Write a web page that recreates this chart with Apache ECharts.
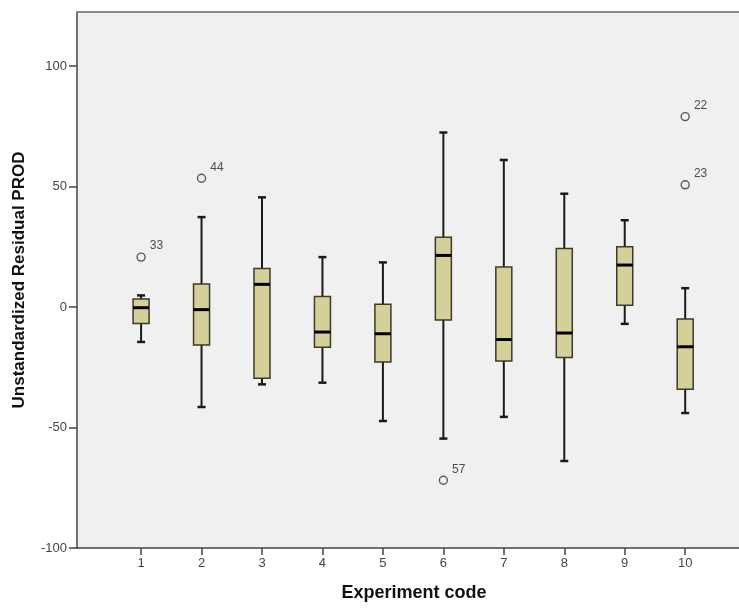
<!DOCTYPE html>
<html>
<head>
<meta charset="utf-8">
<script src="https://cdn.jsdelivr.net/npm/echarts@6/dist/echarts.min.js"></script>
<style>
html,body{margin:0;padding:0;background:#ffffff;}
#chart{width:739px;height:608px;}
</style>
</head>
<body>
<div id="chart"></div>
<script>
// Experiment codes (x categories)
var categories = [1, 2, 3, 4, 5, 6, 7, 8, 9, 10];
// Box plot statistics per experiment
var whiskerLow  = [-14.5, -41.5, -32.1, -31.4, -47.3, -54.6, -45.6, -63.9, -7.0, -44.0];
var q1          = [-6.8, -15.8, -29.6, -16.7, -22.8, -5.4, -22.4, -21.0, 0.7, -34.1];
var median      = [-0.3, -1.1, 9.4, -10.4, -11.1, 21.4, -13.5, -10.8, 17.4, -16.5];
var q3          = [3.3, 9.5, 16.0, 4.4, 1.1, 28.9, 16.6, 24.3, 25.0, -5.0];
var whiskerHigh = [4.8, 37.3, 45.5, 20.7, 18.5, 72.4, 61.0, 47.0, 36.0, 7.8];
// Outliers
var outlierX     = [1, 2, 6, 10, 10];
var outlierY     = [20.7, 53.4, -71.9, 79.0, 50.7];
var outlierLabel = ['33', '44', '57', '22', '23'];
// Tick labels
var yTicks = [-100, -50, 0, 50, 100];

var boxData = categories.map(function (c, i) {
  return [c, whiskerLow[i], q1[i], median[i], q3[i], whiskerHigh[i]];
});
var outlierData = outlierX.map(function (x, i) {
  return { value: [x, outlierY[i]], name: outlierLabel[i] };
});

var FONT = "'Liberation Sans', Arial, sans-serif";
var chart = echarts.init(document.getElementById('chart'), null, { renderer: 'canvas' });

chart.setOption({
  backgroundColor: '#ffffff',
  animation: false,
  grid: {
    left: 77, right: 0, top: 12, bottom: 60,
    show: true, backgroundColor: '#f0f0f0', borderWidth: 0
  },
  xAxis: [{
    type: 'value',
    min: -0.06, max: 10.89,
    name: 'Experiment code',
    nameLocation: 'middle',
    nameGap: 36,
    nameTextStyle: { fontFamily: FONT, fontSize: 18, fontWeight: 'bold', color: '#111', padding: [0, 0, 0, 12] },
    axisLine: { show: true, onZero: false, lineStyle: { color: '#444', width: 1.5 } },
    axisTick: { show: true, length: 7, customValues: categories, lineStyle: { color: '#444', width: 1.5 } },
    axisLabel: { customValues: categories, margin: 9, fontFamily: FONT, fontSize: 13, color: '#444' },
    splitLine: { show: false }
  }, {
    type: 'value',
    position: 'top',
    min: -0.06, max: 10.89,
    axisLine: { show: true, onZero: false, lineStyle: { color: '#8a8a8a', width: 2 } },
    axisTick: { show: false },
    axisLabel: { show: false },
    splitLine: { show: false }
  }],
  yAxis: {
    type: 'value',
    min: -100, max: 122.4,
    name: 'Unstandardized Residual PROD',
    nameLocation: 'middle',
    nameGap: 49,
    nameTextStyle: { fontFamily: FONT, fontSize: 17, fontWeight: 'bold', color: '#111' },
    axisLine: { show: true, onZero: false, lineStyle: { color: '#444', width: 1.5 } },
    axisTick: { show: true, length: 8, customValues: yTicks, lineStyle: { color: '#444', width: 1.5 } },
    axisLabel: { customValues: yTicks, margin: 10, fontFamily: FONT, fontSize: 13, color: '#444' },
    splitLine: { show: false }
  },
  series: [{
    type: 'custom',
    xAxisIndex: 0,
    data: boxData,
    renderItem: function (params, api) {
      var x = api.value(0);
      var pLow = api.coord([x, api.value(1)]);
      var pQ1 = api.coord([x, api.value(2)]);
      var pMed = api.coord([x, api.value(3)]);
      var pQ3 = api.coord([x, api.value(4)]);
      var pHigh = api.coord([x, api.value(5)]);
      var cx = pLow[0];
      var halfBox = 8;
      var halfCap = 4;
      var lineStyle = { stroke: '#1a1a1a', lineWidth: 2 };
      return {
        type: 'group',
        children: [
          { type: 'line', shape: { x1: cx, y1: pHigh[1], x2: cx, y2: pQ3[1] }, style: lineStyle },
          { type: 'line', shape: { x1: cx, y1: pQ1[1], x2: cx, y2: pLow[1] }, style: lineStyle },
          { type: 'line', shape: { x1: cx - halfCap, y1: pHigh[1], x2: cx + halfCap, y2: pHigh[1] }, style: { stroke: '#1a1a1a', lineWidth: 2.5 } },
          { type: 'line', shape: { x1: cx - halfCap, y1: pLow[1], x2: cx + halfCap, y2: pLow[1] }, style: { stroke: '#1a1a1a', lineWidth: 2.5 } },
          { type: 'rect', shape: { x: cx - halfBox, y: pQ3[1], width: halfBox * 2, height: pQ1[1] - pQ3[1] },
            style: { fill: '#d5d09a', stroke: '#3d3b26', lineWidth: 1.5 } },
          { type: 'line', shape: { x1: cx - halfBox, y1: pMed[1], x2: cx + halfBox, y2: pMed[1] }, style: { stroke: '#000', lineWidth: 3 } }
        ]
      };
    }
  }, {
    type: 'scatter',
    xAxisIndex: 0,
    data: outlierData,
    symbol: 'circle',
    symbolSize: 8,
    itemStyle: { color: 'rgba(0,0,0,0)', borderColor: '#333', borderWidth: 1.4 },
    label: {
      show: true,
      position: 'right',
      offset: [-1, -11],
      formatter: function (p) { return p.name; },
      fontFamily: FONT, fontSize: 12, color: '#222'
    }
  }]
});
</script>
</body>
</html>
